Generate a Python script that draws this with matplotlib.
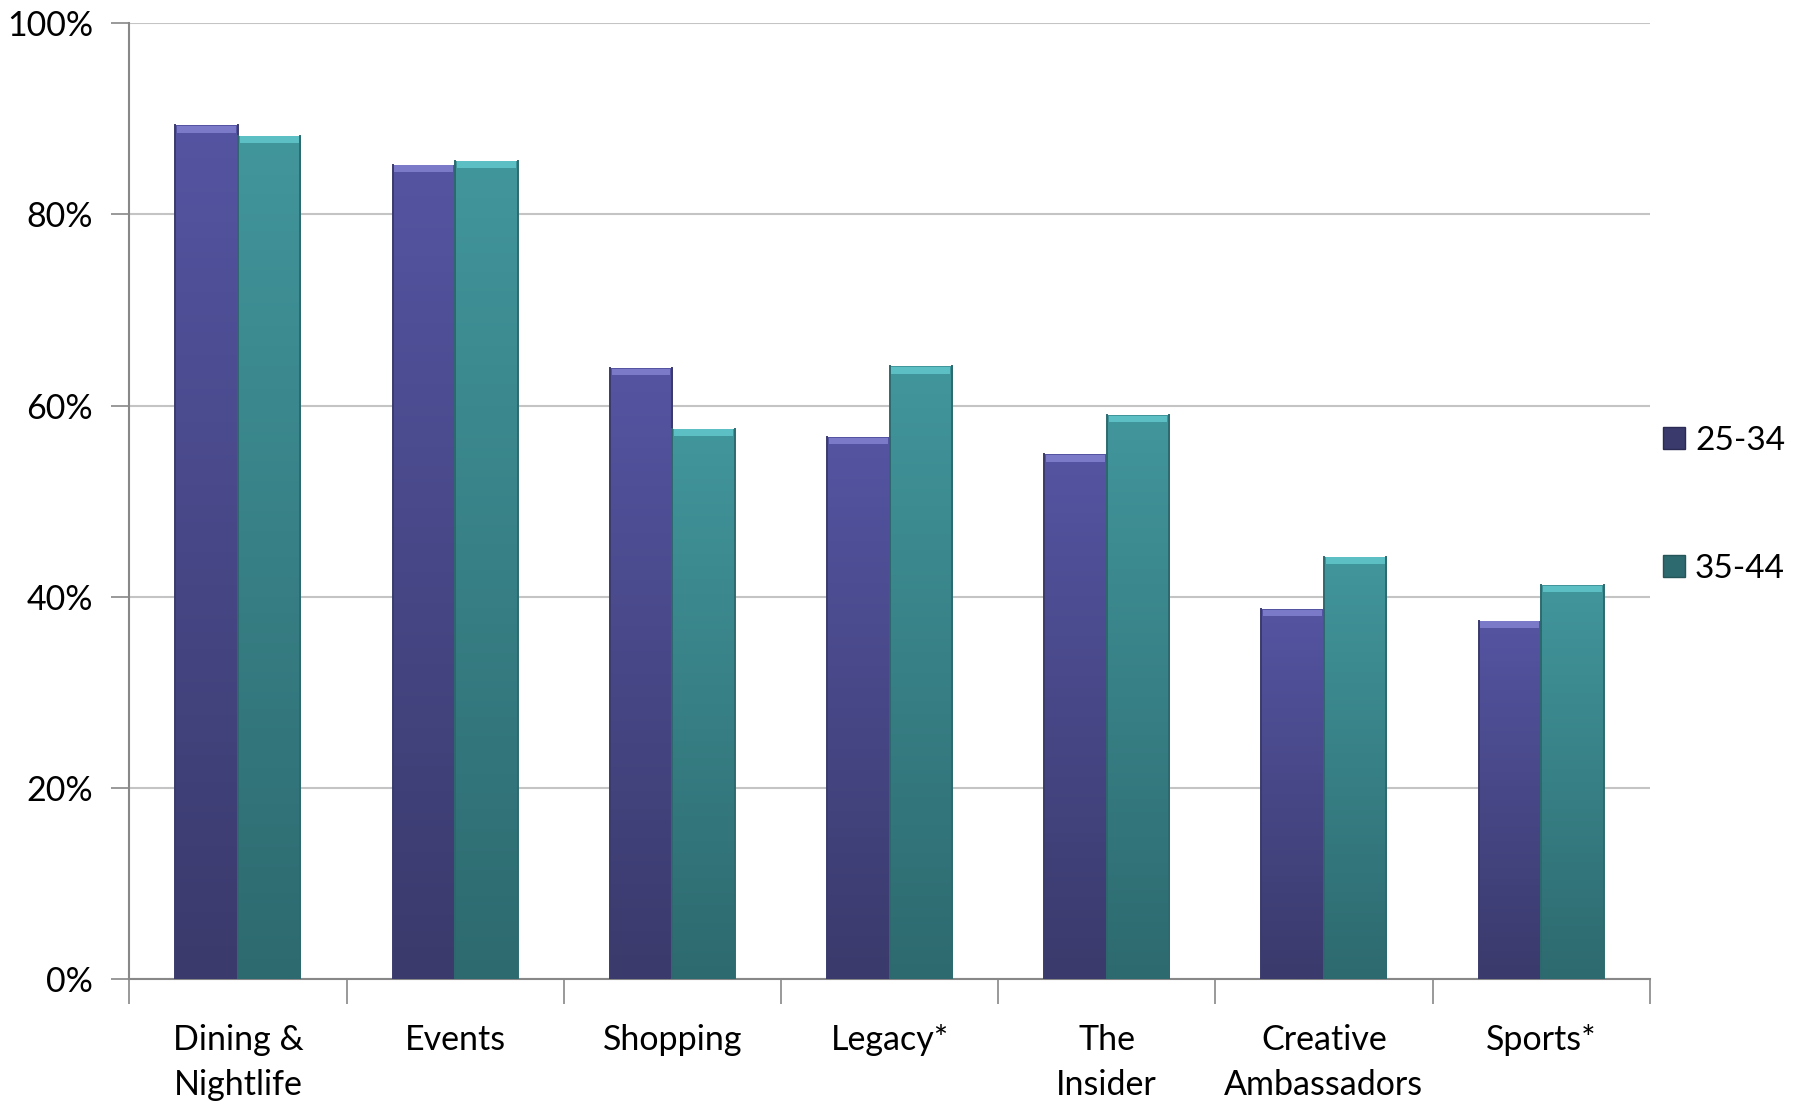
import numpy as np
import matplotlib
matplotlib.use("Agg")
import matplotlib.pyplot as plt
from matplotlib.colors import LinearSegmentedColormap
from matplotlib.patches import Patch

CATEGORIES = ["Dining &\nNightlife", "Events", "Shopping", "Legacy*",
              "The\nInsider", "Creative\nAmbassadors", "Sports*"]
AGE_25_34 = [89.3, 85.2, 63.9, 56.7, 54.9, 38.7, 37.5]
AGE_35_44 = [88.2, 85.6, 57.6, 64.1, 59.0, 44.2, 41.2]
SERIES = ["25-34", "35-44"]
YTICKS = [0, 20, 40, 60, 80, 100]

# (top colour, bottom colour, bevel colour)
PURPLE = ("#5454a2", "#3a3a6c", "#7a7ac8")
TEAL = ("#41969c", "#2d6a6f", "#5cbfc4")
FONT = "Lato"
FONTSIZE = 24.5
BAR_W = 0.288

plt.rcParams["font.family"] = [FONT, "DejaVu Sans"]

fig = plt.figure(figsize=(18.01, 11.02), dpi=100)
ax = fig.add_axes([0.0718, 0.1114, 0.8442, 0.8676])

x = np.arange(len(CATEGORIES))


def gradient_bars(xs, vals, colours):
    top, bottom, bevel = colours
    cmap = LinearSegmentedColormap.from_list("g", [bottom, top])
    bars = ax.bar(xs, vals, BAR_W, color=bottom, edgecolor="none", zorder=2)
    grad = np.linspace(0, 1, 256).reshape(-1, 1)
    for b in bars:
        x0, y0 = b.get_x(), b.get_y()
        w, h = b.get_width(), b.get_height()
        im = ax.imshow(grad, extent=[x0, x0 + w, y0, y0 + h], origin="lower",
                       aspect="auto", cmap=cmap, zorder=3)
        im.set_clip_path(b)
        # lighter bevel at the top of each bar
        ax.bar(x0 + w / 2, 0.7, w * 0.94, bottom=y0 + h - 0.75, color=bevel,
               edgecolor="none", zorder=4)
        # dark side edges
        ax.plot([x0, x0], [0, h], color=bottom, lw=1.4, zorder=5)
        ax.plot([x0 + w, x0 + w], [0, h], color=bottom, lw=1.4, zorder=5)
    return bars


gradient_bars(x - BAR_W / 2, AGE_25_34, PURPLE)
gradient_bars(x + BAR_W / 2, AGE_35_44, TEAL)

ax.set_xlim(-0.5, len(CATEGORIES) - 0.5)
ax.set_ylim(0, 100)

ax.set_yticks(YTICKS)
ax.set_yticklabels([f"{t}%" for t in YTICKS], fontsize=FONTSIZE)
ax.yaxis.grid(True, color="#c4c4c4", lw=1.5, zorder=0)
ax.set_axisbelow(True)

ax.set_xticks(np.arange(len(CATEGORIES) + 1) - 0.5)
ax.set_xticklabels([])
ax.set_xticks(x, minor=True)
ax.set_xticklabels(CATEGORIES, minor=True, fontsize=FONTSIZE, linespacing=1.5)
ax.tick_params(axis="x", which="major", length=18, width=1.2, color="#888888")
ax.tick_params(axis="x", which="minor", length=0, pad=32)
ax.tick_params(axis="y", length=13, width=1.2, color="#888888", pad=13)

for s in ["top", "right"]:
    ax.spines[s].set_visible(False)
for s in ["left", "bottom"]:
    ax.spines[s].set_color("#888888")
    ax.spines[s].set_linewidth(1.5)

handles = [Patch(facecolor=PURPLE[1], edgecolor="#2a2a55"),
           Patch(facecolor=TEAL[1], edgecolor="#245558")]
fig.legend(handles, SERIES, loc="center left", bbox_to_anchor=(0.9235, 0.542),
           frameon=False, fontsize=24, handlelength=0.65, handleheight=0.65,
           handletextpad=0.3, labelspacing=2.95, borderaxespad=0, borderpad=0)

fig.savefig("out.png", dpi=100)
